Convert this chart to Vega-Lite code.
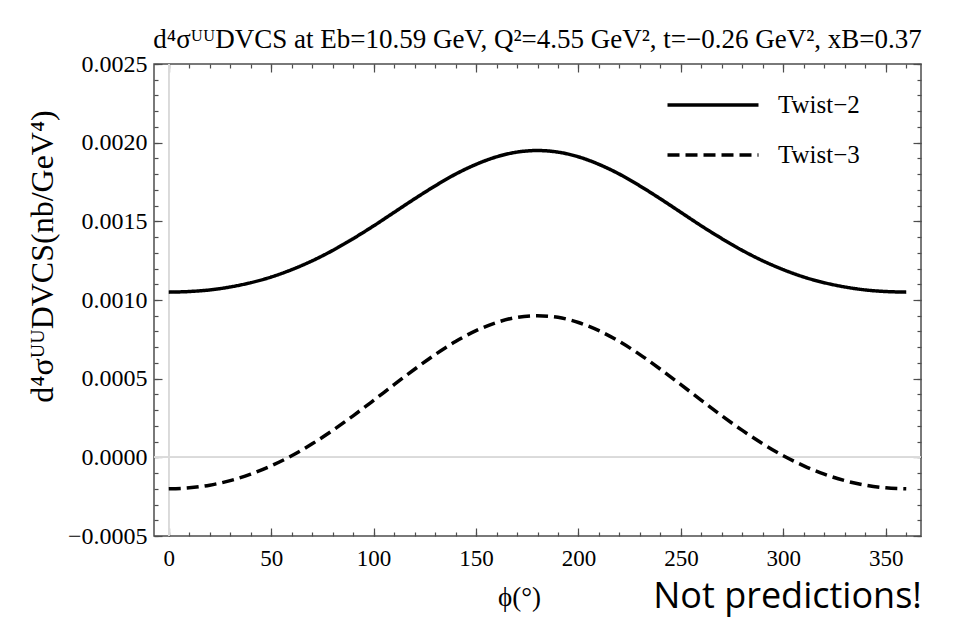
{
  "$schema": "https://vega.github.io/schema/vega-lite/v6.json",
  "width": 767,
  "height": 472,
  "autosize": {"type": "none"},
  "padding": {"left": 154, "top": 64, "right": 33, "bottom": 82},
  "background": "#ffffff",
  "title": {
    "text": "d⁴σᵁᵁDVCS at Eb=10.59 GeV, Q²=4.55 GeV², t=−0.26 GeV², xB=0.37",
    "font": "Liberation Serif",
    "fontSize": 27,
    "fontWeight": "normal",
    "color": "#000000",
    "anchor": "middle",
    "baseline": "alphabetic",
    "offset": -23
  },
  "config": {
    "view": {"stroke": "#4d4d4d", "strokeWidth": 1.5},
    "axis": {
      "domain": false,
      "grid": false,
      "tickColor": "#4d4d4d",
      "tickWidth": 1.2,
      "labelFont": "Liberation Serif",
      "labelFontSize": 24,
      "labelColor": "#000000",
      "titleFont": "Liberation Serif",
      "titleFontWeight": "normal",
      "titleColor": "#000000",
      "labelFlush": false,
      "labelOverlap": false
    }
  },
  "data": {
    "values": [
      {"phi": 0, "value": 0.00105, "series": "Twist−2"},
      {"phi": 10, "value": 0.001054, "series": "Twist−2"},
      {"phi": 20, "value": 0.001064, "series": "Twist−2"},
      {"phi": 30, "value": 0.001083, "series": "Twist−2"},
      {"phi": 40, "value": 0.00111, "series": "Twist−2"},
      {"phi": 50, "value": 0.001146, "series": "Twist−2"},
      {"phi": 60, "value": 0.001193, "series": "Twist−2"},
      {"phi": 70, "value": 0.001249, "series": "Twist−2"},
      {"phi": 80, "value": 0.001315, "series": "Twist−2"},
      {"phi": 90, "value": 0.00139, "series": "Twist−2"},
      {"phi": 100, "value": 0.001471, "series": "Twist−2"},
      {"phi": 110, "value": 0.001557, "series": "Twist−2"},
      {"phi": 120, "value": 0.001643, "series": "Twist−2"},
      {"phi": 130, "value": 0.001725, "series": "Twist−2"},
      {"phi": 140, "value": 0.0018, "series": "Twist−2"},
      {"phi": 150, "value": 0.001862, "series": "Twist−2"},
      {"phi": 160, "value": 0.00191, "series": "Twist−2"},
      {"phi": 170, "value": 0.00194, "series": "Twist−2"},
      {"phi": 180, "value": 0.00195, "series": "Twist−2"},
      {"phi": 190, "value": 0.00194, "series": "Twist−2"},
      {"phi": 200, "value": 0.00191, "series": "Twist−2"},
      {"phi": 210, "value": 0.001862, "series": "Twist−2"},
      {"phi": 220, "value": 0.0018, "series": "Twist−2"},
      {"phi": 230, "value": 0.001725, "series": "Twist−2"},
      {"phi": 240, "value": 0.001643, "series": "Twist−2"},
      {"phi": 250, "value": 0.001557, "series": "Twist−2"},
      {"phi": 260, "value": 0.001471, "series": "Twist−2"},
      {"phi": 270, "value": 0.00139, "series": "Twist−2"},
      {"phi": 280, "value": 0.001315, "series": "Twist−2"},
      {"phi": 290, "value": 0.001249, "series": "Twist−2"},
      {"phi": 300, "value": 0.001193, "series": "Twist−2"},
      {"phi": 310, "value": 0.001146, "series": "Twist−2"},
      {"phi": 320, "value": 0.00111, "series": "Twist−2"},
      {"phi": 330, "value": 0.001083, "series": "Twist−2"},
      {"phi": 340, "value": 0.001064, "series": "Twist−2"},
      {"phi": 350, "value": 0.001054, "series": "Twist−2"},
      {"phi": 360, "value": 0.00105, "series": "Twist−2"},
      {"phi": 0, "value": -0.0002, "series": "Twist−3"},
      {"phi": 10, "value": -0.000194, "series": "Twist−3"},
      {"phi": 20, "value": -0.000177, "series": "Twist−3"},
      {"phi": 30, "value": -0.000148, "series": "Twist−3"},
      {"phi": 40, "value": -0.000107, "series": "Twist−3"},
      {"phi": 50, "value": -0.000054, "series": "Twist−3"},
      {"phi": 60, "value": 0.00001, "series": "Twist−3"},
      {"phi": 70, "value": 0.000086, "series": "Twist−3"},
      {"phi": 80, "value": 0.000171, "series": "Twist−3"},
      {"phi": 90, "value": 0.000264, "series": "Twist−3"},
      {"phi": 100, "value": 0.000362, "series": "Twist−3"},
      {"phi": 110, "value": 0.000462, "series": "Twist−3"},
      {"phi": 120, "value": 0.00056, "series": "Twist−3"},
      {"phi": 130, "value": 0.000653, "series": "Twist−3"},
      {"phi": 140, "value": 0.000736, "series": "Twist−3"},
      {"phi": 150, "value": 0.000805, "series": "Twist−3"},
      {"phi": 160, "value": 0.000857, "series": "Twist−3"},
      {"phi": 170, "value": 0.00089, "series": "Twist−3"},
      {"phi": 180, "value": 0.0009, "series": "Twist−3"},
      {"phi": 190, "value": 0.00089, "series": "Twist−3"},
      {"phi": 200, "value": 0.000857, "series": "Twist−3"},
      {"phi": 210, "value": 0.000805, "series": "Twist−3"},
      {"phi": 220, "value": 0.000736, "series": "Twist−3"},
      {"phi": 230, "value": 0.000653, "series": "Twist−3"},
      {"phi": 240, "value": 0.00056, "series": "Twist−3"},
      {"phi": 250, "value": 0.000462, "series": "Twist−3"},
      {"phi": 260, "value": 0.000362, "series": "Twist−3"},
      {"phi": 270, "value": 0.000264, "series": "Twist−3"},
      {"phi": 280, "value": 0.000171, "series": "Twist−3"},
      {"phi": 290, "value": 0.000086, "series": "Twist−3"},
      {"phi": 300, "value": 0.00001, "series": "Twist−3"},
      {"phi": 310, "value": -0.000054, "series": "Twist−3"},
      {"phi": 320, "value": -0.000107, "series": "Twist−3"},
      {"phi": 330, "value": -0.000148, "series": "Twist−3"},
      {"phi": 340, "value": -0.000177, "series": "Twist−3"},
      {"phi": 350, "value": -0.000194, "series": "Twist−3"},
      {"phi": 360, "value": -0.0002, "series": "Twist−3"}
    ]
  },
  "layer": [
    {
      "mark": {"type": "rule", "color": "#dadada", "strokeWidth": 1},
      "encoding": {
        "x": {
          "datum": 0, "type": "quantitative",
          "scale": {"domain": [-7.2, 367.2], "nice": false, "zero": false},
          "axis": {
            "orient": "bottom",
            "values": [0, 50, 100, 150, 200, 250, 300, 350],
            "ticks": false,
            "labelFontSize": 23,
            "labelPadding": 11,
            "title": null
          }
        }
      }
    },
    {
      "mark": {"type": "rule", "color": "#dadada", "strokeWidth": 1},
      "encoding": {
        "y": {
          "datum": 0, "type": "quantitative",
          "scale": {"domain": [-0.0005, 0.0025], "nice": false, "zero": false},
          "axis": {
            "orient": "left",
            "values": [-0.0005, 0, 0.0005, 0.001, 0.0015, 0.002, 0.0025],
            "format": ".4f",
            "ticks": false,
            "labelPadding": 7,
            "title": null
          }
        }
      }
    },
    {
      "mark": {"type": "line", "strokeWidth": 3.5, "interpolate": "monotone"},
      "encoding": {
        "x": {
          "field": "phi", "type": "quantitative",
          "scale": {"domain": [-7.2, 367.2], "nice": false, "zero": false},
          "axis": {
            "orient": "bottom",
            "values": [0, 50, 100, 150, 200, 250, 300, 350],
            "tickSize": -8,
            "labels": false,
            "title": "ϕ(°)",
            "titleFontSize": 27,
            "titleBaseline": "alphabetic",
            "titlePadding": 69,
            "titleX": 365,
            "titleAlign": "center"
          }
        },
        "y": {
          "field": "value", "type": "quantitative",
          "scale": {"domain": [-0.0005, 0.0025], "nice": false, "zero": false},
          "axis": {
            "orient": "left",
            "values": [-0.0005, 0, 0.0005, 0.001, 0.0015, 0.002, 0.0025],
            "tickSize": -8,
            "labels": false,
            "title": "d⁴σᵁᵁDVCS(nb/GeV⁴)",
            "titleFontSize": 32,
            "titleBaseline": "bottom",
            "titlePadding": 94,
            "titleY": 192,
            "titleAngle": -90,
            "titleAlign": "center"
          }
        },
        "color": {
          "field": "series", "type": "nominal",
          "scale": {"domain": ["Twist−2", "Twist−3"], "range": ["#000000", "#000000"]},
          "legend": {
            "orient": "none",
            "legendX": 542,
            "legendY": 24,
            "title": null,
            "padding": 0,
            "symbolType": "M-3,0H3",
            "symbolSize": 920,
            "symbolStrokeWidth": 3.5,
            "labelFont": "Liberation Serif",
            "labelFontSize": 25,
            "labelColor": "#000000",
            "labelOffset": 48,
            "rowPadding": 20
          }
        },
        "strokeDash": {
          "field": "series", "type": "nominal",
          "scale": {"domain": ["Twist−2", "Twist−3"], "range": [[1, 0], [12, 6]]},
          "legend": {
            "orient": "none",
            "legendX": 542,
            "legendY": 24,
            "title": null,
            "padding": 0,
            "symbolType": "M-3,0H3",
            "symbolSize": 920,
            "symbolStrokeWidth": 3.5,
            "labelFont": "Liberation Serif",
            "labelFontSize": 25,
            "labelColor": "#000000",
            "labelOffset": 48,
            "rowPadding": 20
          }
        }
      }
    },
    {
      "data": {"values": [{}]},
      "mark": {"type": "point", "opacity": 0},
      "encoding": {
        "x": {
          "datum": 0, "type": "quantitative",
          "scale": {"domain": [-7.2, 367.2], "nice": false, "zero": false},
          "axis": {
            "orient": "bottom",
            "values": [0, 10, 20, 30, 40, 50, 60, 70, 80, 90, 100, 110, 120, 130, 140, 150, 160, 170, 180, 190, 200, 210, 220, 230, 240, 250, 260, 270, 280, 290, 300, 310, 320, 330, 340, 350, 360],
            "tickSize": -4,
            "labels": false,
            "title": "Not predictions!",
            "titleFont": "Open Sans",
            "titleFontSize": 36,
            "titleBaseline": "alphabetic",
            "titlePadding": 71,
            "titleX": 633,
            "titleAlign": "center"
          }
        },
        "y": {
          "datum": 0, "type": "quantitative",
          "scale": {"domain": [-0.0005, 0.0025], "nice": false, "zero": false},
          "axis": {
            "orient": "left",
            "values": [-0.0005, -0.0004, -0.0003, -0.0002, -0.0001, 0, 0.0001, 0.0002, 0.0003, 0.0004, 0.0005, 0.0006, 0.0007, 0.0008, 0.0009, 0.001, 0.0011, 0.0012, 0.0013, 0.0014, 0.0015, 0.0016, 0.0017, 0.0018, 0.0019, 0.002, 0.0021, 0.0022, 0.0023, 0.0024, 0.0025],
            "tickSize": -4,
            "labels": false,
            "title": null
          }
        }
      }
    },
    {
      "data": {"values": [{}]},
      "mark": {"type": "point", "opacity": 0},
      "encoding": {
        "x": {
          "datum": 0, "type": "quantitative",
          "scale": {"domain": [-7.2, 367.2], "nice": false, "zero": false},
          "axis": {
            "orient": "top",
            "values": [0, 50, 100, 150, 200, 250, 300, 350],
            "tickSize": -8,
            "labels": false,
            "title": null
          }
        },
        "y": {
          "datum": 0, "type": "quantitative",
          "scale": {"domain": [-0.0005, 0.0025], "nice": false, "zero": false},
          "axis": {
            "orient": "right",
            "values": [-0.0005, 0, 0.0005, 0.001, 0.0015, 0.002, 0.0025],
            "tickSize": -8,
            "labels": false,
            "title": null
          }
        }
      }
    },
    {
      "data": {"values": [{}]},
      "mark": {"type": "point", "opacity": 0},
      "encoding": {
        "x": {
          "datum": 0, "type": "quantitative",
          "scale": {"domain": [-7.2, 367.2], "nice": false, "zero": false},
          "axis": {
            "orient": "top",
            "values": [0, 10, 20, 30, 40, 50, 60, 70, 80, 90, 100, 110, 120, 130, 140, 150, 160, 170, 180, 190, 200, 210, 220, 230, 240, 250, 260, 270, 280, 290, 300, 310, 320, 330, 340, 350, 360],
            "tickSize": -4,
            "labels": false,
            "title": null
          }
        },
        "y": {
          "datum": 0, "type": "quantitative",
          "scale": {"domain": [-0.0005, 0.0025], "nice": false, "zero": false},
          "axis": {
            "orient": "right",
            "values": [-0.0005, -0.0004, -0.0003, -0.0002, -0.0001, 0, 0.0001, 0.0002, 0.0003, 0.0004, 0.0005, 0.0006, 0.0007, 0.0008, 0.0009, 0.001, 0.0011, 0.0012, 0.0013, 0.0014, 0.0015, 0.0016, 0.0017, 0.0018, 0.0019, 0.002, 0.0021, 0.0022, 0.0023, 0.0024, 0.0025],
            "tickSize": -4,
            "labels": false,
            "title": null
          }
        }
      }
    }
  ],
  "resolve": {"axis": {"x": "independent", "y": "independent"}}
}
